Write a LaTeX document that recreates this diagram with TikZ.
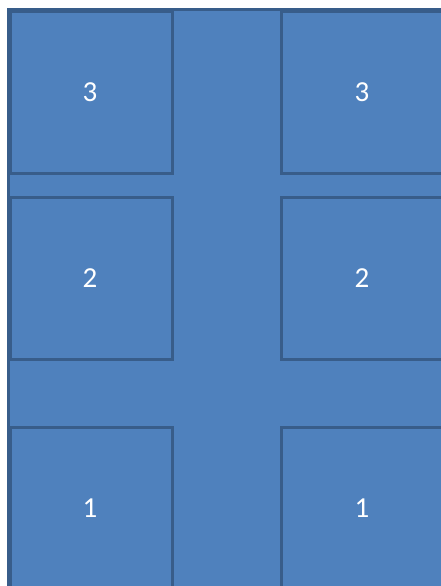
\documentclass[tikz,border=0pt]{standalone}
\usepackage{fontspec}
\setmainfont{Carlito}
\definecolor{boxfill}{HTML}{4F81BD}
\definecolor{boxline}{HTML}{385D8A}
\begin{document}
\begin{tikzpicture}[x=1pt,y=-1pt,
  cell/.style={draw=boxline,fill=boxfill,line width=3pt,minimum width=162pt,minimum height=162pt,
    inner sep=0pt,anchor=north west},
  num/.style={text=white,font=\fontsize{29}{29}\selectfont}]
\useasboundingbox (0,0) rectangle (441,586);
\begin{scope}
\clip (0,0) rectangle (441,586);
\draw[draw=boxline,fill=boxfill,line width=3pt] (8.5,10) rectangle (460,610);
\node[cell] (l3) at (8.5,10) {};
\node[cell] (r3) at (280,10) {};
\node[cell] (l2) at (8.5,196) {};
\node[cell] (r2) at (280,196) {};
\node[cell] (l1) at (8.5,425.5) {};
\node[cell] (r1) at (280,425.5) {};
\end{scope}
\node[num] (t3l) at (90,92) {3};
\node[num] (t3r) at (362,92) {3};
\node[num] (t2l) at (90,278) {2};
\node[num] (t2r) at (362,278) {2};
\node[num] (t1l) at (90,508) {1};
\node[num] (t1r) at (362,508) {1};
\end{tikzpicture}
\end{document}
